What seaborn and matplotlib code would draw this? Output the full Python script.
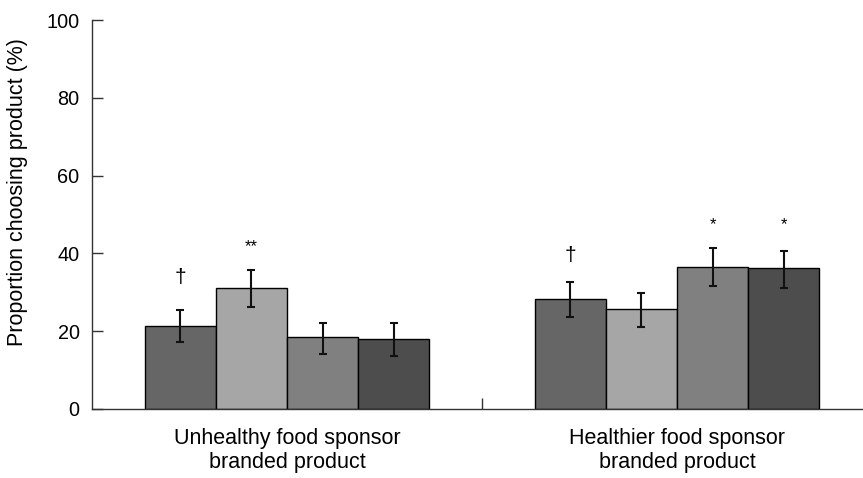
import numpy as np
import pandas as pd
import matplotlib
matplotlib.use("Agg")
import matplotlib.pyplot as plt
import seaborn as sns

# data
groups = ["Unhealthy food sponsor\nbranded product", "Healthier food sponsor\nbranded product"]
conditions = ["Condition 1", "Condition 2", "Condition 3", "Condition 4"]
values = {
    "Condition 1": [21.4, 28.4],
    "Condition 2": [31.2, 25.6],
    "Condition 3": [18.4, 36.6],
    "Condition 4": [18.0, 36.2],
}
err_low = {
    "Condition 1": [17.3, 23.7],
    "Condition 2": [26.3, 21.0],
    "Condition 3": [14.1, 31.7],
    "Condition 4": [13.7, 31.2],
}
err_high = {
    "Condition 1": [25.5, 32.7],
    "Condition 2": [35.7, 29.8],
    "Condition 3": [22.2, 41.5],
    "Condition 4": [22.2, 40.7],
}
# significance marks: (condition, group index, label, y)
marks = [
    ("Condition 1", 0, "\u2020", 33.9),
    ("Condition 2", 0, "**", 40.6),
    ("Condition 1", 1, "\u2020", 39.5),
    ("Condition 3", 1, "*", 46.3),
    ("Condition 4", 1, "*", 46.3),
]
colors = ["#666666", "#a6a6a6", "#808080", "#4d4d4d"]

rows = []
for c in conditions:
    for g, v in zip(groups, values[c]):
        rows.append({"group": g, "condition": c, "value": v})
df = pd.DataFrame(rows)

sns.set_style("white")
plt.rcParams["font.family"] = ["Liberation Sans", "DejaVu Sans"]
plt.rcParams["text.color"] = "black"
plt.rcParams["xtick.color"] = "#333333"
plt.rcParams["ytick.color"] = "#333333"
plt.rcParams["xtick.labelcolor"] = "black"
plt.rcParams["ytick.labelcolor"] = "black"
plt.rcParams["axes.labelcolor"] = "black"

fig = plt.figure(figsize=(8.63, 4.78), dpi=100)
ax = fig.add_axes([92 / 863, 69 / 478, 780 / 863, 389 / 478])

sns.barplot(data=df, x="group", y="value", hue="condition", order=groups,
            hue_order=conditions, palette=colors, width=0.73, gap=0,
            edgecolor="black", linewidth=1, errorbar=None, legend=False,
            saturation=1, ax=ax)

centers = {}
for c, cont in zip(conditions, ax.containers):
    xs = [b.get_x() + b.get_width() / 2 for b in cont]
    centers[c] = xs
    v = np.array(values[c])
    lo = v - np.array(err_low[c])
    hi = np.array(err_high[c]) - v
    ax.errorbar(xs, v, yerr=[lo, hi], fmt="none", ecolor="#111111",
                elinewidth=1.5, capsize=3, capthick=1.5, zorder=5)

for c, gi, lab, y in marks:
    if lab == "\u2020":
        ax.text(centers[c][gi], y, lab, ha="center", va="center", fontsize=15)
    else:
        ax.text(centers[c][gi], y, lab, ha="center", va="baseline", fontsize=12)

ax.set_xlim(-0.5, 1.5)
ax.set_ylim(0, 100)
ax.set_yticks(np.arange(0, 101, 20))
ax.set_xticks([0, 1])
ax.set_xticks([0.5], minor=True)
ax.set_xticklabels(groups, fontsize=15.5, linespacing=1.15)
ax.tick_params(axis="x", which="major", bottom=True, length=0, pad=14)
ax.tick_params(axis="x", which="minor", bottom=True, direction="in", length=8, width=1)
ax.tick_params(axis="y", left=True, direction="in", length=8, width=1,
               labelsize=14.3, pad=9)
ax.set_xlabel("")
ax.set_ylabel("Proportion choosing product (%)", fontsize=15.5)
ax.yaxis.set_label_coords(-0.082, 0.558)

sns.despine(ax=ax, top=True, right=True)
for s in ["left", "bottom"]:
    ax.spines[s].set_color("#333333")
    ax.spines[s].set_linewidth(1)

fig.savefig("out.png", dpi=100)
